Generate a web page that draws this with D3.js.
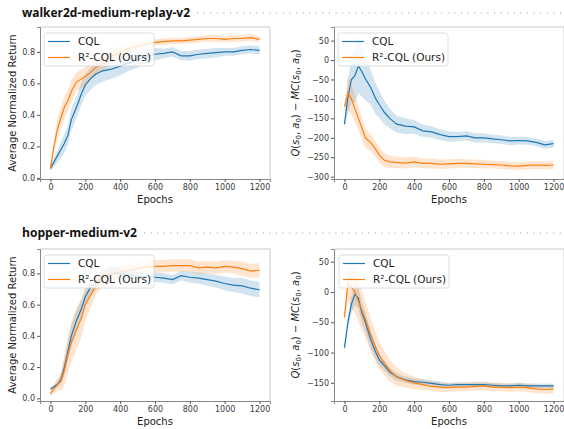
<!DOCTYPE html>
<html>
<head>
<meta charset="utf-8">
<script src="https://cdn.jsdelivr.net/npm/d3@7"></script>
<style>
  html, body { margin: 0; padding: 0; background: #fff; }
  svg { display: block; font-family: "DejaVu Sans", sans-serif; }
  .tick text { fill: #3a3a3a; }
</style>
</head>
<body>
<div id="chart"></div>
<script>
// epochs shared by every curve
var EPOCHS = [0, 20, 40, 60, 80, 100, 120, 150, 180, 200, 230, 260, 300, 350, 400, 450,
  500, 550, 600, 650, 700, 750, 800, 850, 900, 950, 1000, 1050, 1100, 1150, 1200];

var SERIES_NAMES = ['CQL', 'R²-CQL (Ours)'];

// walker2d-medium-replay-v2, normalized return
var walkerReturnCQL = [0.06, 0.10, 0.14, 0.18, 0.22, 0.27, 0.37, 0.45, 0.54, 0.59, 0.63, 0.66, 0.68, 0.69, 0.71, 0.73,
  0.75, 0.77, 0.785, 0.79, 0.80, 0.775, 0.775, 0.785, 0.79, 0.795, 0.80, 0.80, 0.81, 0.815, 0.81];
var walkerReturnCQLSpread = [0.01, 0.03, 0.04, 0.05, 0.06, 0.06, 0.07, 0.07, 0.07, 0.07, 0.07, 0.07, 0.07, 0.06, 0.06, 0.05,
  0.05, 0.04, 0.04, 0.03, 0.03, 0.03, 0.03, 0.03, 0.03, 0.03, 0.025, 0.025, 0.025, 0.025, 0.025];
var walkerReturnR2 = [0.06, 0.20, 0.31, 0.38, 0.45, 0.49, 0.55, 0.61, 0.63, 0.645, 0.67, 0.70, 0.73, 0.77, 0.80, 0.82,
  0.835, 0.85, 0.86, 0.865, 0.87, 0.87, 0.875, 0.88, 0.885, 0.885, 0.88, 0.885, 0.885, 0.89, 0.88];
var walkerReturnR2Spread = [0.02, 0.04, 0.06, 0.07, 0.07, 0.07, 0.07, 0.06, 0.06, 0.06, 0.05, 0.05, 0.05, 0.04, 0.04, 0.03,
  0.03, 0.025, 0.02, 0.02, 0.02, 0.02, 0.02, 0.02, 0.02, 0.02, 0.02, 0.02, 0.02, 0.02, 0.02];

// walker2d-medium-replay-v2, Q - MC
var walkerQCQL = [-165, -95, -50, -40, -15, -30, -48, -70, -100, -115, -135, -150, -165, -170, -172, -182,
  -185, -192, -197, -197, -195, -200, -200, -203, -205, -208, -207, -208, -212, -218, -215];
var walkerQCQLSpread = [10, 40, 60, 70, 70, 65, 55, 45, 40, 35, 30, 25, 22, 20, 18, 16,
  15, 14, 13, 12, 12, 12, 12, 11, 11, 11, 10, 10, 10, 10, 10];
var walkerQR2 = [-120, -85, -100, -125, -150, -175, -200, -212, -230, -245, -258, -262, -263, -265, -262, -266,
  -266, -268, -267, -266, -266, -267, -268, -269, -270, -272, -273, -271, -270, -271, -270];
var walkerQR2Spread = [10, 45, 40, 35, 30, 28, 25, 22, 20, 20, 18, 16, 15, 14, 14, 13,
  13, 12, 12, 12, 11, 11, 11, 10, 10, 10, 10, 10, 10, 10, 10];

// hopper-medium-v2, normalized return
var hopperReturnCQL = [0.06, 0.075, 0.09, 0.12, 0.20, 0.30, 0.40, 0.50, 0.58, 0.65, 0.71, 0.74, 0.78, 0.80, 0.80, 0.79,
  0.78, 0.78, 0.775, 0.77, 0.76, 0.785, 0.775, 0.77, 0.76, 0.75, 0.735, 0.725, 0.72, 0.705, 0.695];
var hopperReturnCQLSpread = [0.01, 0.01, 0.02, 0.03, 0.05, 0.06, 0.07, 0.07, 0.06, 0.05, 0.05, 0.05, 0.04, 0.04, 0.04, 0.03,
  0.03, 0.03, 0.03, 0.03, 0.03, 0.03, 0.035, 0.035, 0.04, 0.04, 0.045, 0.045, 0.05, 0.05, 0.05];
var hopperReturnR2 = [0.03, 0.06, 0.09, 0.11, 0.18, 0.28, 0.36, 0.44, 0.52, 0.60, 0.66, 0.72, 0.77, 0.80, 0.81, 0.82,
  0.83, 0.84, 0.845, 0.845, 0.85, 0.85, 0.85, 0.835, 0.84, 0.835, 0.845, 0.84, 0.83, 0.815, 0.82];
var hopperReturnR2Spread = [0.02, 0.03, 0.04, 0.06, 0.10, 0.12, 0.13, 0.13, 0.12, 0.10, 0.08, 0.06, 0.05, 0.04, 0.04, 0.04,
  0.04, 0.04, 0.04, 0.04, 0.04, 0.04, 0.04, 0.04, 0.04, 0.04, 0.04, 0.04, 0.045, 0.045, 0.045];

// hopper-medium-v2, Q - MC
var hopperQCQL = [-92, -50, -20, -4, -10, -35, -50, -78, -100, -112, -122, -132, -140, -145, -148, -149,
  -151, -153, -154, -153, -153, -153, -153, -154, -155, -155, -154, -155, -155, -155, -155];
var hopperQCQLSpread = [8, 12, 15, 18, 18, 18, 17, 15, 12, 10, 8, 7, 6, 5, 5, 5,
  5, 5, 4, 4, 4, 4, 4, 4, 4, 4, 4, 4, 4, 4, 4];
var hopperQR2 = [-42, 15, 8, 0, -15, -30, -45, -70, -92, -105, -118, -130, -140, -146, -150, -153,
  -156, -157, -158, -157, -157, -156, -155, -157, -157, -158, -157, -158, -160, -161, -160];
var hopperQR2Spread = [5, 30, 35, 35, 35, 33, 30, 28, 25, 22, 20, 18, 15, 12, 10, 9,
  8, 8, 7, 7, 7, 7, 7, 7, 7, 7, 7, 7, 7, 7, 7];

var RETURN_TICKS = [0, 0.2, 0.4, 0.6, 0.8];
var WALKER_Q_TICKS = [-300, -250, -200, -150, -100, -50, 0, 50];
var HOPPER_Q_TICKS = [-150, -100, -50, 0, 50];
var EPOCH_TICKS = [0, 200, 400, 600, 800, 1000, 1200];

var W = 564, H = 429;
var COLORS = ['#1f77b4', '#ff7f0e'];

var svg = d3.select('#chart').append('svg')
  .attr('width', W).attr('height', H);

// section titles with dotted leaders
function sectionTitle(text, y, width) {
  svg.append('text')
    .attr('x', 22).attr('y', y)
    .attr('font-family', '"Open Sans", "DejaVu Sans", sans-serif')
    .attr('font-weight', 'bold')
    .attr('font-size', 11.5)
    .attr('fill', '#111')
    .attr('textLength', width)
    .attr('lengthAdjust', 'spacingAndGlyphs')
    .text(text);
  svg.append('line')
    .attr('x1', 22 + width + 7).attr('x2', W)
    .attr('y1', y - 4).attr('y2', y - 4)
    .attr('stroke', '#999').attr('stroke-width', 1)
    .attr('stroke-dasharray', '1,5.6');
}
sectionTitle('walker2d-medium-replay-v2', 17, 168);
sectionTitle('hopper-medium-v2', 237, 115);

function drawPanel(p) {
  var x = d3.scaleLinear().domain([-60, 1260]).range([p.left, p.left + 230]);
  var y = d3.scaleLinear().domain(p.ylim).range([p.bottom, p.top]);
  var g = svg.append('g');

  p.series.forEach(function (s, i) {
    var pts = EPOCHS.map(function (e, k) {
      return { e: e, lo: s.mean[k] - s.spread[k], hi: s.mean[k] + s.spread[k] };
    });
    g.append('path')
      .datum(pts)
      .attr('fill', COLORS[i]).attr('fill-opacity', 0.2)
      .attr('d', d3.area().x(function (d) { return x(d.e); })
        .y0(function (d) { return y(d.lo); })
        .y1(function (d) { return y(d.hi); }));
  });
  p.series.forEach(function (s, i) {
    var pts = EPOCHS.map(function (e, k) { return { e: e, m: s.mean[k] }; });
    g.append('path')
      .datum(pts)
      .attr('fill', 'none').attr('stroke', COLORS[i]).attr('stroke-width', 1.2)
      .attr('d', d3.line().x(function (d) { return x(d.e); }).y(function (d) { return y(d.m); }));
  });

  // frame
  g.append('line').attr('x1', p.left).attr('x2', p.left + 230).attr('y1', p.top).attr('y2', p.top)
    .attr('stroke', '#ccc');
  g.append('line').attr('x1', p.left + 230).attr('x2', p.left + 230).attr('y1', p.top).attr('y2', p.bottom)
    .attr('stroke', '#ccc');

  var xa = g.append('g').attr('transform', 'translate(0,' + p.bottom + ')')
    .call(d3.axisBottom(x).tickValues(EPOCH_TICKS).tickSize(3).tickPadding(2).tickFormat(d3.format('d')));
  var ya = g.append('g').attr('transform', 'translate(' + p.left + ',0)')
    .call(d3.axisLeft(y).tickValues(p.ticks).tickSize(3).tickPadding(2).tickFormat(p.fmt));
  [xa, ya].forEach(function (a) {
    a.selectAll('text').attr('font-size', 8).attr('font-family', '"DejaVu Sans", sans-serif');
    a.selectAll('line').attr('stroke', '#555');
    a.select('.domain').attr('stroke', '#888');
  });

  g.append('text')
    .attr('x', p.left + 115).attr('y', p.bottom + 24)
    .attr('text-anchor', 'middle').attr('font-size', 10).attr('fill', '#222')
    .text('Epochs');

  var cy = (p.top + p.bottom) / 2;
  var lab = g.append('text')
    .attr('transform', 'translate(' + p.labelX + ',' + cy + ') rotate(-90)')
    .attr('text-anchor', 'middle').attr('font-size', 10).attr('fill', '#222');
  if (p.qLabel) {
    // 1 = italic symbol, 2 = subscript, 0 = upright
    var parts = [['Q', 1], ['(', 0], ['s', 1], ['0', 2], [', ', 0], ['a', 1], ['0', 2], [') − ', 0],
      ['MC', 1], ['(', 0], ['s', 1], ['0', 2], [', ', 0], ['a', 1], ['0', 2], [')', 0]];
    var lowered = false;
    parts.forEach(function (pt) {
      var ts = lab.append('tspan').text(pt[0]);
      if (pt[1] === 1) ts.attr('font-style', 'italic');
      if (pt[1] === 2) {
        ts.attr('font-size', 7).attr('dy', 2);
        lowered = true;
      } else if (lowered) {
        ts.attr('dy', -2);
        lowered = false;
      }
    });
  } else {
    lab.text('Average Normalized Return');
  }

  // legend
  var lx = p.left + p.legendDx, ly = p.top + 6;
  var leg = g.append('g').attr('transform', 'translate(' + lx + ',' + ly + ')');
  leg.append('rect').attr('width', 110).attr('height', 33).attr('rx', 2.5)
    .attr('fill', '#fff').attr('fill-opacity', 0.8)
    .attr('stroke', '#d5d5d5').attr('stroke-width', 0.8);
  SERIES_NAMES.forEach(function (name, i) {
    var yy = 8.5 + i * 16;
    leg.append('line').attr('x1', 4).attr('x2', 26).attr('y1', yy).attr('y2', yy)
      .attr('stroke', COLORS[i]).attr('stroke-width', 1.2);
    leg.append('text').attr('x', 34).attr('y', yy + 3.8)
      .attr('font-size', 10.5).attr('fill', '#222').text(name);
  });
}

var panels = [
  { left: 40, top: 27, bottom: 179, ylim: [-0.007, 0.958], ticks: RETURN_TICKS, fmt: d3.format('.1f'),
    labelX: 16, legendDx: 4, series: [
      { mean: walkerReturnCQL, spread: walkerReturnCQLSpread },
      { mean: walkerReturnR2, spread: walkerReturnR2Spread }] },
  { left: 334, top: 27, bottom: 179, ylim: [-306, 85], ticks: WALKER_Q_TICKS, fmt: d3.format('d'),
    labelX: 299, legendDx: 4, qLabel: true, series: [
      { mean: walkerQCQL, spread: walkerQCQLSpread },
      { mean: walkerQR2, spread: walkerQR2Spread }] },
  { left: 40, top: 249, bottom: 401, ylim: [-0.017, 0.956], ticks: RETURN_TICKS, fmt: d3.format('.1f'),
    labelX: 16, legendDx: 4, series: [
      { mean: hopperReturnCQL, spread: hopperReturnCQLSpread },
      { mean: hopperReturnR2, spread: hopperReturnR2Spread }] },
  { left: 334, top: 249, bottom: 401, ylim: [-180, 71], ticks: HOPPER_Q_TICKS, fmt: d3.format('d'),
    labelX: 299, legendDx: 5, qLabel: true, series: [
      { mean: hopperQCQL, spread: hopperQCQLSpread },
      { mean: hopperQR2, spread: hopperQR2Spread }] }
];

panels.forEach(drawPanel);
</script>
</body>
</html>
